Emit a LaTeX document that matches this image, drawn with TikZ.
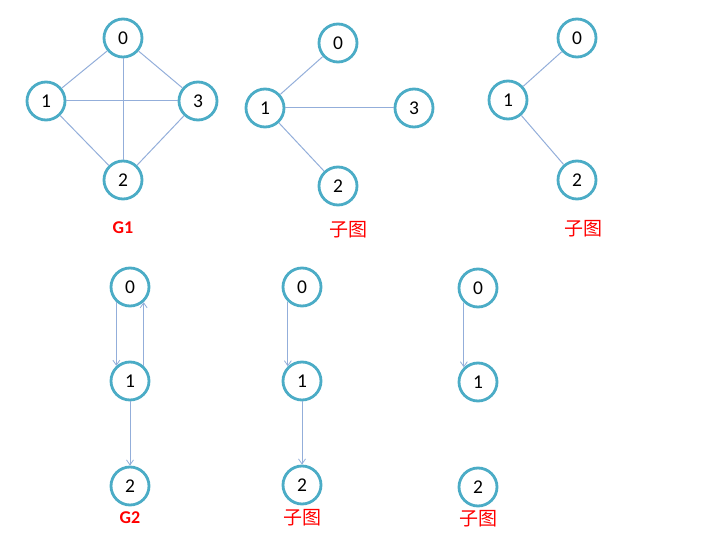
\documentclass[tikz,border=0pt]{standalone}
\usepackage{fontspec}
\setmainfont{Carlito}
\newfontfamily\cjk{Noto Sans CJK SC}
\usetikzlibrary{arrows.meta}
\definecolor{ring}{HTML}{4BACC6}
\definecolor{edgec}{HTML}{93AEDA}
\definecolor{lab}{HTML}{FF0000}
\tikzset{
  vtx/.style={circle, draw=ring, line width=2.8pt, minimum size=38pt, inner sep=0pt, fill=white, font=\fontsize{19.5}{19.5}\selectfont},
  edg/.style={draw=edgec, line width=1pt},
  arc/.style={edg, -{Straight Barb[length=5pt,width=7pt,line width=0.8pt]}},
  glabel/.style={text=lab, font=\fontsize{18}{18}\selectfont\bfseries},
  clabel/.style={text=lab, font=\cjk\fontsize{19}{19}\selectfont}
}
\begin{document}
\begin{tikzpicture}[x=1pt,y=-1pt]
\useasboundingbox (0,0) rectangle (712,545);
% G1
\node[vtx] (a0) at (123,38) {0};
\node[vtx] (a1) at (46,101) {1};
\node[vtx] (a3) at (198,101) {3};
\node[vtx] (a2) at (123,180) {2};
\node[glabel] (ag) at (123,228) {G1};
\draw[edg] (a0) -- (a1);
\draw[edg] (a0) -- (a3);
\draw[edg] (a0) -- (a2);
\draw[edg] (a1) -- (a3);
\draw[edg] (a1) -- (a2);
\draw[edg] (a3) -- (a2);
% subgraph 1
\node[vtx] (b0) at (338,43) {0};
\node[vtx] (b1) at (265,108) {1};
\node[vtx] (b3) at (414,108) {3};
\node[vtx] (b2) at (338,186) {2};
\node[clabel] (bg) at (348,230) {子图};
\draw[edg] (b1) -- (b0);
\draw[edg] (b1) -- (b3);
\draw[edg] (b1) -- (b2);
% subgraph 2
\node[vtx] (c0) at (577,38) {0};
\node[vtx] (c1) at (508,100) {1};
\node[vtx] (c2) at (577,180) {2};
\node[clabel] (cg) at (583,229) {子图};
\draw[edg] (c1) -- (c0);
\draw[edg] (c1) -- (c2);
% G2
\node[vtx] (d0) at (130,287) {0};
\node[vtx] (d1) at (130,381) {1};
\node[vtx] (d2) at (130,486) {2};
\node[glabel] (dg) at (130,518) {G2};
\draw[arc] (d0.-132) -- (d1.132);
\draw[arc] (d1.48) -- (d0.-48);
\draw[arc] (d1.south) -- (d2.north);
% subgraph 3
\node[vtx] (e0) at (302,287) {0};
\node[vtx] (e1) at (302,381) {1};
\node[vtx] (e2) at (302,485) {2};
\node[clabel] (eg) at (302,518) {子图};
\draw[arc] (e0.-134) -- (e1.134);
\draw[arc] (e1.south) -- (e2.north);
% subgraph 4
\node[vtx] (f0) at (478,288) {0};
\node[vtx] (f1) at (478,382) {1};
\node[vtx] (f2) at (478,487) {2};
\node[clabel] (fg) at (478,519) {子图};
\draw[arc] (f0.-134) -- (f1.134);
\end{tikzpicture}
\end{document}
